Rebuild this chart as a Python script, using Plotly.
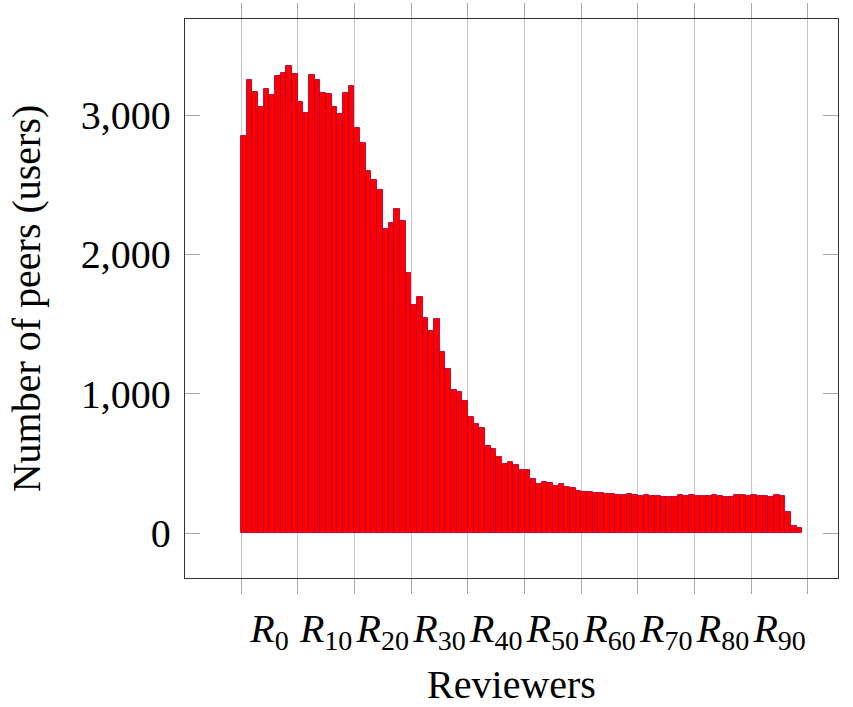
import plotly.graph_objects as go

# Data
reviewer_index = list(range(99))
peers = [2849, 3251, 3165, 3060, 3184, 3148, 3280, 3299, 3350, 3293,
         3096, 3012, 3287, 3251, 3156, 3151, 3055, 3005, 3160, 3211,
         2909, 2797, 2598, 2534, 2460, 2184, 2227, 2323, 2239, 1864,
         1638, 1695, 1541, 1450, 1534, 1301, 1175, 1026, 1014, 950,
         830, 782, 754, 625, 603, 548, 495, 512, 486, 452,
         455, 386, 350, 364, 357, 340, 350, 333, 321, 304,
         292, 292, 290, 285, 283, 280, 275, 271, 278, 275,
         266, 271, 266, 266, 261, 261, 261, 271, 268, 271,
         266, 266, 266, 271, 268, 261, 261, 271, 271, 268,
         271, 266, 266, 261, 271, 266, 149, 50, 33]
grid_ticks = list(range(0, 101, 10))
label_positions = [k + 5 for k in range(0, 100, 10)]
label_text = [f"<i>R</i><sub>{k}</sub>" for k in range(0, 100, 10)]
y_ticks = [0, 1000, 2000, 3000]

FONT = "Liberation Serif"
x_range = [-9.9, 105.3]

fig = go.Figure()
fig.add_trace(go.Bar(
    x=reviewer_index, y=peers, width=1, offset=0,
    marker=dict(color="#ff0000", line=dict(color="#b3003c", width=0.9)),
    xaxis="x", yaxis="y", showlegend=False,
))
# invisible helper trace so that the label axis (x2) is drawn
fig.add_trace(go.Scatter(
    x=label_positions, y=[0] * len(label_positions), mode="none",
    xaxis="x2", yaxis="y", showlegend=False, hoverinfo="skip",
))

fig.update_layout(
    width=853, height=707,
    margin=dict(l=185, r=15, t=19, b=129),
    paper_bgcolor="white", plot_bgcolor="white",
    font=dict(family=FONT, size=40, color="black"),
    bargap=0,
    xaxis=dict(
        range=x_range, tickvals=grid_ticks, showticklabels=False,
        showgrid=True, gridcolor="#c8c8c8", gridwidth=1.3,
        ticks="outside", ticklen=15, tickcolor="#a8a8a8", tickwidth=1.3,
        showline=True, linecolor="#333333", linewidth=1.3, mirror="ticks",
        zeroline=False, automargin=False,
    ),
    xaxis2=dict(
        overlaying="x", anchor="y", side="bottom",
        range=x_range, tickvals=label_positions, ticktext=label_text,
        ticks="", showgrid=False, showline=False, zeroline=False,
        tickfont=dict(family=FONT, size=40, color="black"),
        ticklabelstandoff=23, automargin=False,
        title=dict(text="Reviewers", font=dict(family=FONT, size=40), standoff=16),
    ),
    yaxis=dict(
        range=[-323, 3690], tickvals=y_ticks, tickformat=",",
        ticks="inside", ticklen=15, tickcolor="#a8a8a8", tickwidth=1.3,
        showline=True, linecolor="#333333", linewidth=1.3, mirror="ticks",
        showgrid=False, zeroline=False, automargin=False,
        tickfont=dict(family=FONT, size=40, color="black"),
        ticklabelstandoff=5,
        title=dict(text="Number of peers (users)", font=dict(family=FONT, size=40), standoff=27),
    ),
)

fig.write_html("out.html")
